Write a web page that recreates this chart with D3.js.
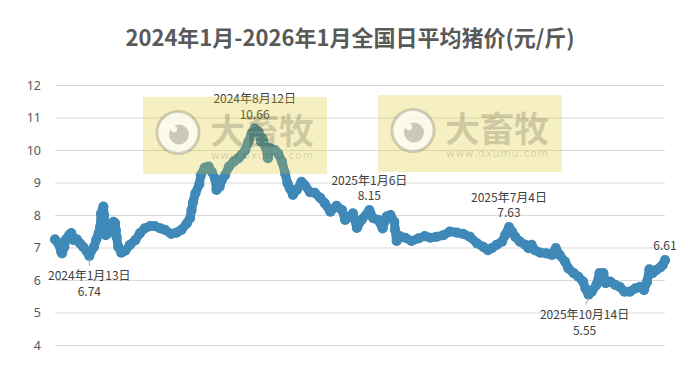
<!DOCTYPE html>
<html>
<head>
<meta charset="utf-8">
<script src="https://cdn.jsdelivr.net/npm/d3@7"></script>
<style>
body { margin: 0; background: #fff; }
svg { display: block; }
</style>
</head>
<body>
<div id="chart"></div>
<script>
const width = 699, height = 367;

// daily average hog price
const dates = [
  "2023-11-30","2023-12-04","2023-12-08","2023-12-09","2023-12-12","2023-12-14","2023-12-18","2023-12-21",
  "2023-12-24","2023-12-28","2024-01-01","2024-01-05","2024-01-10","2024-01-13","2024-01-16","2024-01-19",
  "2024-01-22","2024-01-25","2024-01-27","2024-01-28","2024-01-31","2024-02-01","2024-02-02","2024-02-03",
  "2024-02-06","2024-02-08","2024-02-13","2024-02-15","2024-02-16","2024-02-17","2024-02-19","2024-02-23",
  "2024-02-28","2024-03-05","2024-03-12","2024-03-18","2024-03-24","2024-03-31","2024-04-06","2024-04-13",
  "2024-04-19","2024-04-27","2024-05-04","2024-05-10","2024-05-17","2024-05-21","2024-05-23","2024-05-25",
  "2024-05-28","2024-06-02","2024-06-04","2024-06-09","2024-06-14","2024-06-18","2024-06-22","2024-06-24",
  "2024-06-28","2024-07-01","2024-07-05","2024-07-10","2024-07-16","2024-07-22","2024-07-26","2024-07-31",
  "2024-08-04","2024-08-08","2024-08-12","2024-08-17","2024-08-20","2024-08-22","2024-08-25","2024-08-26",
  "2024-08-29","2024-09-01","2024-09-07","2024-09-11","2024-09-16","2024-09-20","2024-09-23","2024-09-26",
  "2024-09-30","2024-10-05","2024-10-11","2024-10-15","2024-10-22","2024-10-28","2024-11-04","2024-11-10",
  "2024-11-17","2024-11-25","2024-12-02","2024-12-06","2024-12-12","2024-12-16","2024-12-21","2024-12-27",
  "2025-01-06","2025-01-11","2025-01-17","2025-01-23","2025-01-28","2025-02-02","2025-02-07","2025-02-08",
  "2025-02-10","2025-02-14","2025-02-21","2025-03-01","2025-03-10","2025-03-18","2025-03-25","2025-04-02",
  "2025-04-11","2025-04-19","2025-04-28","2025-05-06","2025-05-15","2025-05-24","2025-06-01","2025-06-07",
  "2025-06-12","2025-06-18","2025-06-25","2025-06-29","2025-07-04","2025-07-08","2025-07-12","2025-07-18",
  "2025-07-25","2025-07-29","2025-08-02","2025-08-06","2025-08-13","2025-08-21","2025-08-28","2025-09-02",
  "2025-09-07","2025-09-14","2025-09-18","2025-09-25","2025-10-01","2025-10-07","2025-10-10","2025-10-14",
  "2025-10-18","2025-10-24","2025-10-28","2025-11-02","2025-11-05","2025-11-11","2025-11-17","2025-11-23",
  "2025-11-29","2025-12-06","2025-12-13","2025-12-19","2025-12-24","2025-12-28","2025-12-31","2026-01-04",
  "2026-01-09","2026-01-14","2026-01-17","2026-01-20"
];
const prices = [
  7.25,7.14,6.87,6.82,7.02,7.25,7.38,7.44,
  7.23,7.25,7.13,7.02,6.87,6.74,6.92,7.02,
  7.25,7.44,7.64,8.05,8.26,8.0,7.7,7.38,
  7.44,7.64,7.79,7.75,7.54,7.33,7.02,6.84,
  6.9,7.08,7.23,7.44,7.59,7.66,7.66,7.59,
  7.54,7.42,7.46,7.54,7.74,7.9,8.15,8.4,
  8.67,8.95,9.23,9.46,9.49,9.33,9.13,8.77,
  8.87,9.08,9.23,9.49,9.64,9.74,9.85,10.0,
  10.26,10.51,10.66,10.56,10.26,10.36,10.15,10.1,
  9.75,10.05,10.0,9.9,9.64,9.28,8.98,8.82,
  8.62,8.77,9.02,8.92,8.7,8.68,8.53,8.36,
  8.1,8.28,8.15,7.85,7.95,8.05,7.6,7.85,
  8.15,7.9,7.85,7.59,7.95,8.0,7.79,7.54,
  7.2,7.35,7.3,7.2,7.28,7.35,7.3,7.33,
  7.38,7.49,7.46,7.42,7.33,7.13,7.02,6.92,
  6.98,7.08,7.18,7.38,7.63,7.49,7.33,7.18,
  7.08,6.98,7.08,6.92,6.84,6.82,6.77,6.98,
  6.77,6.56,6.36,6.21,6.1,5.95,5.74,5.55,
  5.64,5.85,6.21,6.21,5.9,5.95,5.85,5.79,
  5.64,5.64,5.74,5.79,5.69,5.95,6.33,6.21,
  6.31,6.39,6.46,6.61
];

const yTicks = [4, 5, 6, 7, 8, 9, 10, 11, 12];

// callouts
const noteDates  = ["2024-01-13", "2024-08-12", "2025-01-06", "2025-07-04", "2025-10-14", "2026-01-20"];
const noteValues = [6.74, 10.66, 8.15, 7.63, 5.55, 6.61];
const noteLabels = ["2024年1月13日", "2024年8月12日", "2025年1月6日", "2025年7月4日", "2025年10月14日", ""];
const noteBelow  = [true, false, false, false, true, false];

const parse = d3.timeParse("%Y-%m-%d");
const data = dates.map((d, i) => ({ date: parse(d), value: prices[i] }));

const svg = d3.select("#chart").append("svg")
    .attr("width", width)
    .attr("height", height);

svg.append("text")
    .attr("x", 350)
    .attr("y", 46)
    .attr("text-anchor", "middle")
    .style("font-family", "'Noto Sans CJK SC', sans-serif")
    .style("font-weight", "bold")
    .style("font-size", "22px")
    .style("fill", "#595959")
    .text("2024年1月-2026年1月全国日平均猪价(元/斤)");

var x = d3.scaleTime()
    .domain([parse("2023-11-30"), parse("2026-01-20")])
    .range([55, 665]);

var y = d3.scaleLinear()
    .domain([4, 12])
    .range([345, 85]);

// grid + tick labels
var yAxis = svg.append("g")
    .attr("transform", "translate(55,0)")
    .call(d3.axisLeft(y).tickValues(yTicks).tickSize(-610).tickFormat(d3.format("d")));
yAxis.select(".domain").remove();
yAxis.selectAll(".tick line").attr("stroke", "#d9d9d9");
yAxis.selectAll(".tick text")
    .attr("x", -14)
    .style("font-family", "'Noto Sans', sans-serif")
    .style("font-size", "12.5px")
    .style("fill", "#595959");

// price line, drawn as fat markers like the original
const blue = "#3f89b8";
var line = d3.line()
    .x(d => x(d.date))
    .y(d => y(d.value));

svg.append("path")
    .datum(data)
    .attr("d", line)
    .attr("fill", "none")
    .attr("stroke", blue)
    .attr("stroke-width", 9)
    .attr("stroke-linejoin", "round")
    .attr("stroke-linecap", "round");

svg.append("g").selectAll("circle").data(data)
    .enter().append("circle")
    .attr("cx", d => x(d.date))
    .attr("cy", d => y(d.value))
    .attr("r", 5.1)
    .attr("fill", blue);

// callouts
var notes = svg.append("g")
    .style("font-family", "'Noto Sans CJK SC', sans-serif")
    .style("font-size", "12px")
    .style("fill", "#404040");

noteDates.forEach(function(nd, i) {
    var px = x(parse(nd)), py = y(noteValues[i]);
    var shift = (i == 4) ? -4 : 0;
    var top = noteBelow[i] ? py + 19 : py - 31;
    var bottom = noteBelow[i] ? py + 35 : py - 15.5;
    if (noteLabels[i] == "") bottom = py - 16;
    if (noteBelow[i]) {
        svg.append("line")
            .attr("x1", px).attr("y1", py + 3)
            .attr("x2", px + shift * 0.7).attr("y2", py + 10)
            .attr("stroke", "#a6a6a6").attr("stroke-width", 1);
    }
    if (noteLabels[i] != "") {
        notes.append("text")
            .attr("x", px + shift).attr("y", top)
            .attr("text-anchor", "middle")
            .attr("dominant-baseline", "central")
            .text(noteLabels[i]);
    }
    notes.append("text")
        .attr("x", px + shift).attr("y", bottom)
        .attr("text-anchor", "middle")
        .attr("dominant-baseline", "central")
        .text(noteValues[i].toFixed(2));
});

// watermark stamps, laid over the chart
var drawStamp = function(bx, by) {
    var g = svg.append("g").attr("transform", "translate(" + bx + "," + by + ")");
    g.append("rect")
        .attr("width", 184).attr("height", 77)
        .attr("fill", "rgb(219,195,20)")
        .attr("fill-opacity", 0.26);
    g.append("circle")
        .attr("cx", 35).attr("cy", 35.5).attr("r", 21)
        .attr("fill", "#fff").attr("fill-opacity", 0.65)
        .attr("stroke", "#000").attr("stroke-opacity", 0.17).attr("stroke-width", 3);
    g.append("circle")
        .attr("cx", 36).attr("cy", 37.5).attr("r", 10)
        .attr("fill", "#000").attr("fill-opacity", 0.2);
    g.append("circle")
        .attr("cx", 31).attr("cy", 32).attr("r", 3.2)
        .attr("fill", "#fff").attr("fill-opacity", 0.85);
    g.append("text")
        .attr("x", 67).attr("y", 47)
        .attr("textLength", 104)
        .style("font-family", "'Noto Sans CJK SC', sans-serif")
        .style("font-weight", "bold")
        .style("font-size", "35px")
        .style("fill", "#000")
        .style("fill-opacity", 0.17)
        .text("大畜牧");
    g.append("text")
        .attr("x", 68).attr("y", 62)
        .attr("textLength", 102)
        .style("font-family", "'DejaVu Sans', sans-serif")
        .style("font-size", "10.5px")
        .style("fill", "#000")
        .style("fill-opacity", 0.15)
        .text("www.dxumu.com");
};
drawStamp(143, 97);
drawStamp(378, 95);
</script>
</body>
</html>
